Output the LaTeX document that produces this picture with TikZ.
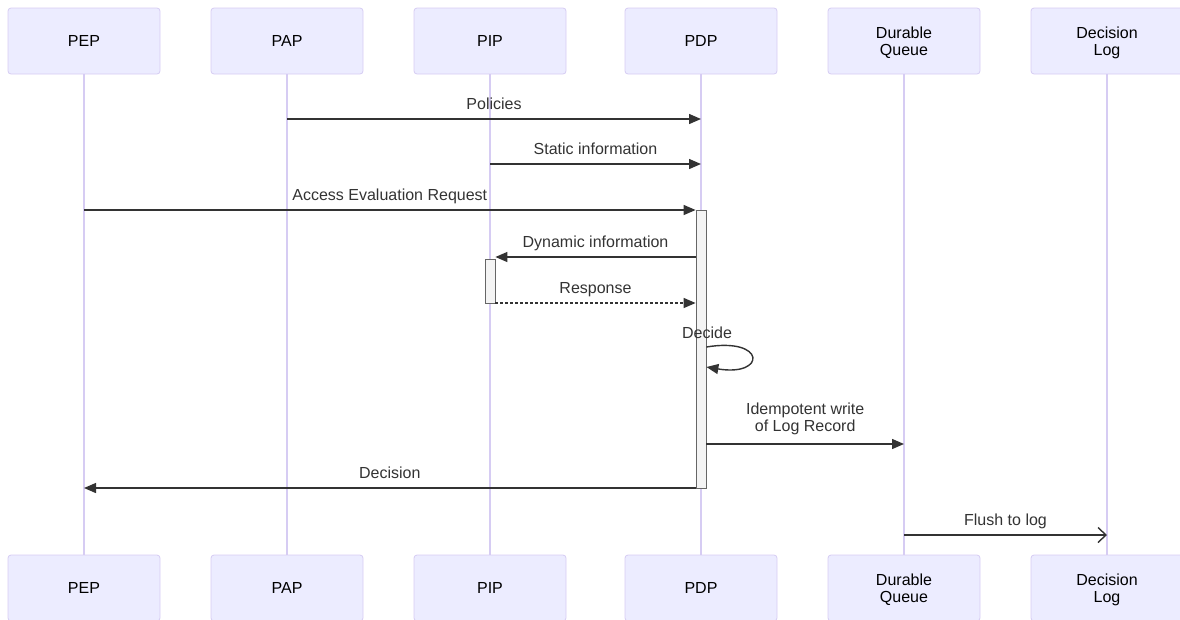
\documentclass[tikz,border=0pt]{standalone}
\usepackage{fontspec}
\setmainfont{Liberation Sans}
\usetikzlibrary{arrows.meta,positioning}
\definecolor{actorfill}{HTML}{ECECFF}
\definecolor{actorline}{HTML}{D6CCF3}
\definecolor{msgcol}{HTML}{333333}
\definecolor{actfill}{HTML}{F4F4F4}
\definecolor{actline}{HTML}{666666}
\tikzset{
  actor/.style={draw=actorline,fill=actorfill,line width=0.8pt,outer sep=0pt,rounded corners=3pt,
    minimum width=152pt,minimum height=66pt,align=center,text depth=0pt,
    font=\fontsize{16}{17}\selectfont},
  life/.style={draw=actorline,line width=1.2pt},
  actbox/.style={draw=actline,fill=actfill,line width=0.8pt,minimum width=10pt,inner sep=0pt},
  msg/.style={draw=msgcol,line width=1.4pt,-{Triangle[length=12pt,width=10pt]}},
  reply/.style={msg,dash pattern=on 3pt off 2pt},
  async/.style={draw=msgcol,line width=1.4pt,-{Straight Barb[length=8pt,width=15pt,line width=1.4pt]}},
  lbl/.style={text=msgcol,inner sep=0pt,align=center,font=\fontsize{16}{17}\selectfont}
}
\begin{document}
\begin{tikzpicture}[x=1pt,y=-1pt]
\useasboundingbox (0,0) rectangle (1180,619);
\node[actor] (pep) at (84,41) {PEP};
\node[actor,right=51pt of pep] (pap) {PAP};
\node[actor,right=51pt of pap] (pip) {PIP};
\node[actor,right=59pt of pip] (pdp) {PDP};
\node[actor,right=51pt of pdp] (queue) {Durable\\Queue};
\node[actor,right=51pt of queue] (dlog) {Decision\\Log};
\node[actor,below=481pt of pep] (pepb) {PEP};
\node[actor,below=481pt of pap] (papb) {PAP};
\node[actor,below=481pt of pip] (pipb) {PIP};
\node[actor,below=481pt of pdp] (pdpb) {PDP};
\node[actor,below=481pt of queue] (queueb) {Durable\\Queue};
\node[actor,below=481pt of dlog] (dlogb) {Decision\\Log};
\draw[life] (pep) -- (pepb);
\draw[life] (pap) -- (papb);
\draw[life] (pip) -- (pipb);
\draw[life] (pdp) -- (pdpb);
\draw[life] (queue) -- (queueb);
\draw[life] (dlog) -- (dlogb);
\node[actbox,minimum height=278pt] (actpdp) at (pdp |- 0,349) {};
\node[actbox,minimum height=44pt] (actpip) at (pip |- 0,281) {};
\coordinate (m1) at (0,119);
\coordinate (m2) at (0,164);
\coordinate (m3) at (0,210);
\coordinate (m4) at (0,257);
\coordinate (m5) at (0,303);
\coordinate (m7) at (0,444);
\coordinate (m8) at (0,488);
\coordinate (m9) at (0,535);
\coordinate (selfa) at (actpdp.east |- 0,347);
\coordinate (selfb) at (actpdp.east |- 0,367);
\draw[msg] (pap |- m1) -- (pdp |- m1) node[lbl,midway,anchor=base,yshift=10pt] {Policies};
\draw[msg] (pip |- m2) -- (pdp |- m2) node[lbl,midway,anchor=base,yshift=10pt] {Static information};
\draw[msg] (pep |- m3) -- (actpdp.west |- m3) node[lbl,midway,anchor=base,yshift=10pt] {Access Evaluation Request};
\draw[msg] (actpdp.west |- m4) -- (actpip.east |- m4) node[lbl,midway,anchor=base,yshift=10pt] {Dynamic information};
\draw[reply] (actpip.east |- m5) -- (actpdp.west |- m5) node[lbl,midway,anchor=base,yshift=10pt] {Response};
\node[lbl,anchor=base] (decide) at (707,338) {Decide};
\draw[msg] (selfa) .. controls +(60,-10) and +(60,10) .. (selfb);
\draw[msg] (actpdp.east |- m7) -- (queue |- m7) node[lbl,midway,anchor=south,yshift=8pt] {Idempotent write\\of Log Record};
\draw[msg] (actpdp.west |- m8) -- (pep |- m8) node[lbl,midway,anchor=base,yshift=10pt] {Decision};
\draw[async] (queue |- m9) -- (dlog |- m9) node[lbl,midway,anchor=base,yshift=10pt] {Flush to log};
\end{tikzpicture}
\end{document}
